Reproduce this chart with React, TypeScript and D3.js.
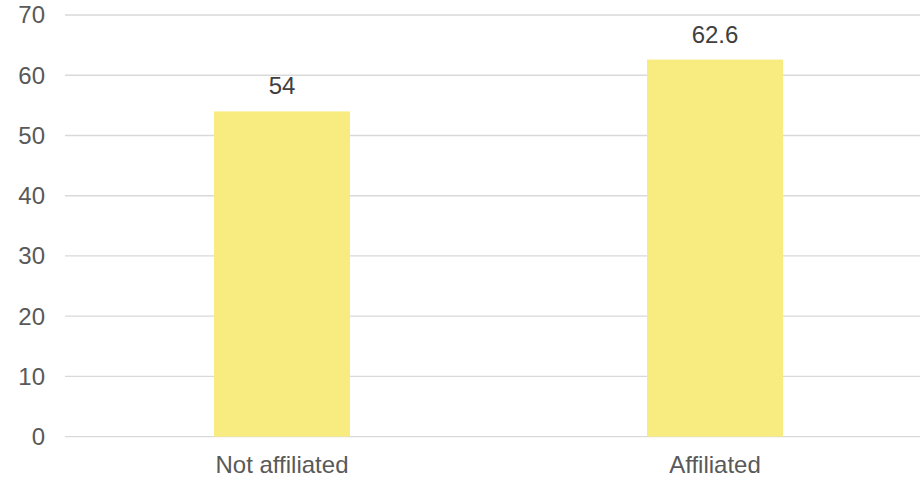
import React from "react";
import * as d3 from "d3";

const categories = ["Not affiliated", "Affiliated"];
const values = [54, 62.6];
const valueLabels = ["54", "62.6"];
const yTicks = [0, 10, 20, 30, 40, 50, 60, 70];

const W = 920;
const H = 482;

export default function App() {
  const x = d3.scaleBand<string>().domain(categories).range([65.5, 931.5]).padding(0);
  const y = d3.scaleLinear().domain([0, 70]).range([436.7, 15]);
  const barW = x.bandwidth() * 0.314;
  const font = "'Liberation Sans', Arial, sans-serif";
  return (
    <svg width={W} height={H} style={{ position: "absolute", left: 0, top: 0, background: "#fff" }}>
      {yTicks.map((t) => (
        <g key={t}>
          <line x1={65} x2={W} y1={y(t)} y2={y(t)} stroke="#d9d9d9" strokeWidth={1.3} />
          <text x={45} y={y(t)} dy="0.35em" textAnchor="end" fontFamily={font} fontSize={24} fill="#595959">
            {t}
          </text>
        </g>
      ))}
      {categories.map((c, i) => {
        const cx = (x(c) as number) + x.bandwidth() / 2;
        return (
          <g key={c}>
            <rect x={cx - barW / 2} y={y(values[i])} width={barW} height={y(0) - y(values[i])} fill="#F8EB80" />
            <text x={cx} y={y(values[i]) - 17} textAnchor="middle" fontFamily={font} fontSize={24} fill="#404040">
              {valueLabels[i]}
            </text>
            <text x={cx} y={473} textAnchor="middle" fontFamily={font} fontSize={24} fill="#595959">
              {c}
            </text>
          </g>
        );
      })}
    </svg>
  );
}
